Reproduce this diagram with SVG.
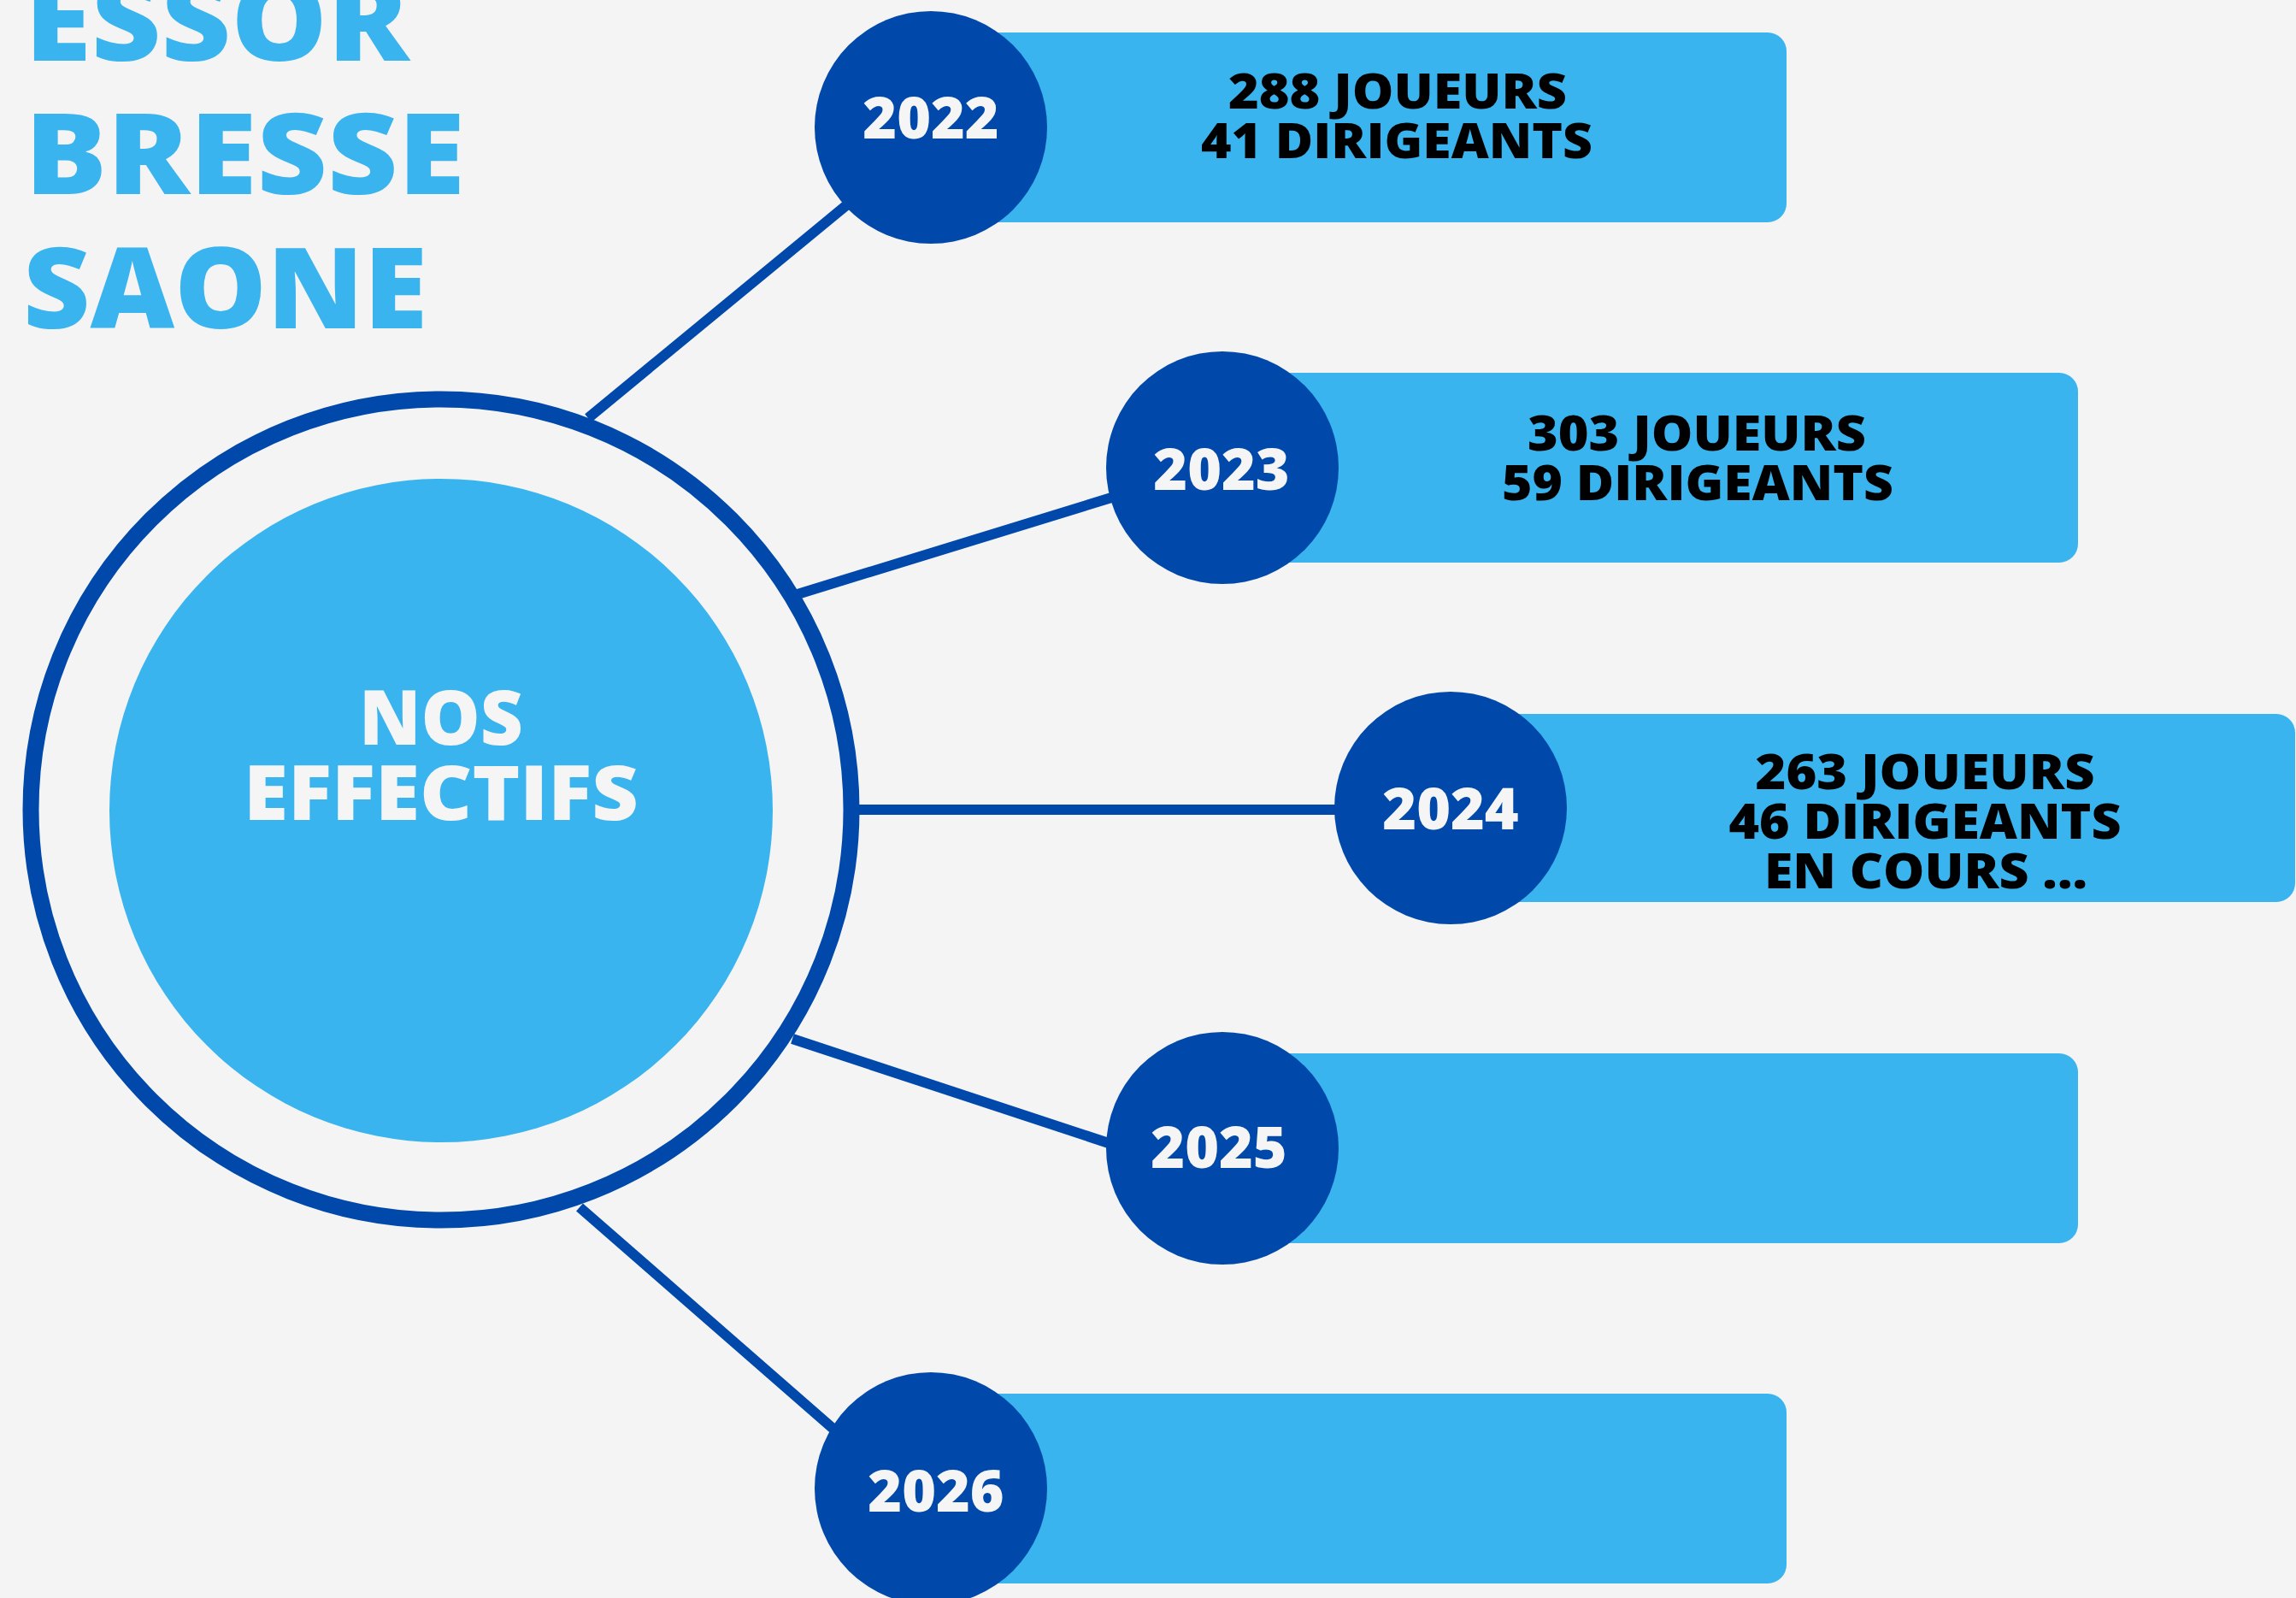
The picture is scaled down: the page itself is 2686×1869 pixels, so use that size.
<svg xmlns="http://www.w3.org/2000/svg" width="2686" height="1869" viewBox="0 0 2686 1869">
<style>
.title{font-family:"Open Sans","Liberation Sans",sans-serif;font-weight:800;font-size:132px;fill:#3AB4EE}
.conn{stroke:#0049AB;stroke-width:12;fill:none;stroke-linecap:butt}
.bar{fill:#39B4EE}
.yc{fill:#0049AB}
.yt{font-family:"Open Sans","Liberation Sans",sans-serif;font-weight:800;font-size:68px;fill:#F5F5F5;text-anchor:middle}
.st{font-family:"Open Sans","Liberation Sans",sans-serif;font-weight:800;font-size:56px;fill:#000;text-anchor:middle}
.ct{font-family:"Open Sans","Liberation Sans",sans-serif;font-weight:800;font-size:88px;fill:#F5F5F5;text-anchor:middle}
</style>
<rect width="2686" height="1869" fill="#F4F4F4"/>
<g id="title">
<text class="title" x="29" y="71" textLength="450" lengthAdjust="spacingAndGlyphs">ESSOR</text>
<text class="title" x="29" y="227" textLength="515" lengthAdjust="spacingAndGlyphs">BRESSE</text>
<text class="title" x="27" y="384" textLength="473" lengthAdjust="spacingAndGlyphs">SAONE</text>
</g>
<g id="connectors">
<line class="conn" x1="688" y1="489" x2="1000" y2="232"/>
<line class="conn" x1="933" y1="695" x2="1310" y2="579"/>
<line class="conn" x1="1000" y1="947" x2="1570" y2="947"/>
<line class="conn" x1="927" y1="1215" x2="1300" y2="1338"/>
<line class="conn" x1="678" y1="1412" x2="985" y2="1680"/>
</g>
<g id="center">
<circle cx="516" cy="947" r="480" fill="none" stroke="#0049AB" stroke-width="19"/>
<circle cx="516" cy="948" r="388" fill="#39B4EE"/>
<text class="ct" x="516" y="871" textLength="192" lengthAdjust="spacingAndGlyphs">NOS</text>
<text class="ct" x="516" y="959" textLength="462" lengthAdjust="spacingAndGlyphs">EFFECTIFS</text>
</g>
<g id="y2022">
<rect class="bar" x="1089" y="38" width="1001" height="222" rx="22"/>
<circle class="yc" cx="1089" cy="149" r="136"/>
<text class="yt" x="1089" y="162">2022</text>
<text class="st" x="1635" y="127" textLength="396" lengthAdjust="spacingAndGlyphs">288 JOUEURS</text>
<text class="st" x="1634" y="185" textLength="458" lengthAdjust="spacingAndGlyphs">41 DIRIGEANTS</text>
</g>
<g id="y2023">
<rect class="bar" x="1430" y="436" width="1001" height="222" rx="22"/>
<circle class="yc" cx="1430" cy="547" r="136"/>
<text class="yt" x="1429" y="573">2023</text>
<text class="st" x="1985" y="527" textLength="396" lengthAdjust="spacingAndGlyphs">303 JOUEURS</text>
<text class="st" x="1986" y="585" textLength="458" lengthAdjust="spacingAndGlyphs">59 DIRIGEANTS</text>
</g>
<g id="y2024">
<rect class="bar" x="1697" y="835" width="988" height="220" rx="22"/>
<circle class="yc" cx="1697" cy="945" r="136"/>
<text class="yt" x="1697" y="970">2024</text>
<text class="st" x="2252" y="923" textLength="397" lengthAdjust="spacingAndGlyphs">263 JOUEURS</text>
<text class="st" x="2252" y="981" textLength="459" lengthAdjust="spacingAndGlyphs">46 DIRIGEANTS</text>
<text class="st" x="2253" y="1039" textLength="378" lengthAdjust="spacingAndGlyphs">EN COURS ...</text>
</g>
<g id="y2025">
<rect class="bar" x="1430" y="1232" width="1001" height="222" rx="22"/>
<circle class="yc" cx="1430" cy="1343" r="136"/>
<text class="yt" x="1426" y="1366">2025</text>
</g>
<g id="y2026">
<rect class="bar" x="1089" y="1630" width="1001" height="222" rx="22"/>
<circle class="yc" cx="1089" cy="1741" r="136"/>
<text class="yt" x="1095" y="1768">2026</text>
</g>
</svg>
